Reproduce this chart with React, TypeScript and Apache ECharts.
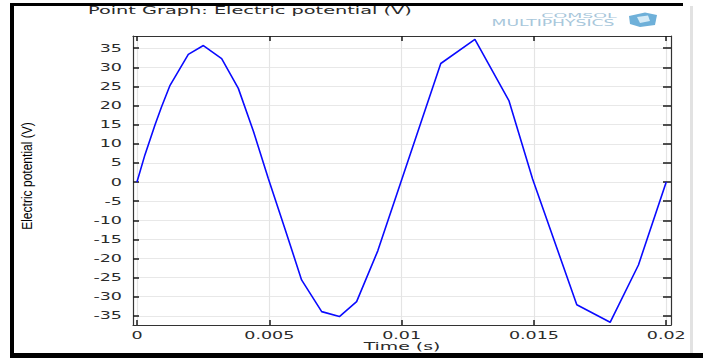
import React, { useEffect, useRef } from "react";
import * as echarts from "echarts";

// Time samples (s) and electric potential (V) along the point graph
const timeS = [
  0, 0.0003, 0.00068, 0.00093, 0.00125, 0.00194, 0.00251, 0.0032, 0.00383, 0.0044,
  0.00496, 0.0056, 0.00622, 0.00698, 0.00765, 0.0083, 0.0091, 0.01148, 0.01277,
  0.01406, 0.01495, 0.01662, 0.01788, 0.01895, 0.02,
];
const potentialV = [
  0, 7.1, 14.9, 19.7, 25.3, 33.4, 35.7, 32.3, 24.5, 13.3,
  1.0, -12.4, -25.6, -33.9, -35.2, -31.3, -18.0, 31.0, 37.3,
  21.2, 0.8, -32.1, -36.7, -21.7, 0,
];

const xTicks = [0, 0.005, 0.01, 0.015, 0.02];
const xTickLabels = ["0", "0.005", "0.01", "0.015", "0.02"];
const yTicks = [-35, -30, -25, -20, -15, -10, -5, 0, 5, 10, 15, 20, 25, 30, 35];
const yTickLabels = yTicks.map((v) => String(v));

const titleText = "Point Graph: Electric potential (V)";
const xTitle = "Time (s)";
const yTitle = "Electric potential (V)";

const X_MIN = -0.00015;
const X_MAX = 0.02018;
const Y_MIN = -37.4;
const Y_MAX = 38.2;

const TEXT_COLOR = "#2b2b2b";
const LABEL_FONT = '10px "DejaVu Sans"';
const WIDE = 1.75;

function axisCommon(ticks: number[], tickLen: number) {
  return {
    type: "value" as const,
    axisLine: { show: true, onZero: false, lineStyle: { color: "#333", width: 1.2 } },
    axisTick: {
      show: true,
      inside: true,
      length: tickLen,
      customValues: ticks,
      lineStyle: { color: "#1a1a1a", width: 1.5 },
    },
    axisLabel: { show: false, customValues: ticks },
  };
}

export default function App() {
  const ref = useRef<HTMLDivElement>(null);

  useEffect(() => {
    if (!ref.current) return;
    const chart = echarts.init(ref.current, null, { renderer: "svg" });

    chart.setOption({
      animation: false,
      backgroundColor: "#ffffff",
      grid: { left: 133, top: 36, right: 32, bottom: 33, containLabel: false },
      xAxis: [
        {
          ...axisCommon(xTicks, 5),
          min: X_MIN,
          max: X_MAX,
          position: "bottom",
          splitLine: { show: true, lineStyle: { color: "#e4e4e4", width: 1.2 } },
        },
        {
          ...axisCommon(xTicks, 5),
          min: X_MIN,
          max: X_MAX,
          position: "top",
          splitLine: { show: false },
        },
      ],
      yAxis: [
        {
          ...axisCommon(yTicks, 6),
          min: Y_MIN,
          max: Y_MAX,
          position: "left",
          splitLine: { show: true, lineStyle: { color: "#e8e8e8", width: 1.2 } },
        },
        {
          ...axisCommon(yTicks, 8),
          min: Y_MIN,
          max: Y_MAX,
          position: "right",
          splitLine: { show: false },
        },
      ],
      series: [
        {
          type: "line",
          xAxisIndex: 0,
          yAxisIndex: 0,
          data: timeS.map((t, i) => [t, potentialV[i]]),
          showSymbol: false,
          lineStyle: { color: "#0a0aff", width: 1.6 },
          z: 5,
        },
      ],
    });

    const graphics: any[] = [];

    // frame around the figure
    graphics.push(
      { type: "rect", shape: { x: 10, y: 3, width: 4, height: 355 }, style: { fill: "#000" } },
      { type: "rect", shape: { x: 10, y: 3, width: 673, height: 3 }, style: { fill: "#000" } },
      { type: "rect", shape: { x: 10, y: 353, width: 693, height: 5 }, style: { fill: "#000" } },
      { type: "rect", shape: { x: 690, y: 6, width: 3, height: 347 }, style: { fill: "#e2e2e2" } }
    );

    // title
    graphics.push({
      type: "text",
      x: 88,
      y: 11,
      scaleX: 1.84,
      style: {
        text: titleText,
        font: '10.5px "DejaVu Sans"',
        fill: TEXT_COLOR,
        align: "left",
        verticalAlign: "middle",
      },
    });

    // vendor mark, top right
    graphics.push(
      {
        type: "text",
        x: 579,
        y: 16,
        scaleX: 2.5,
        style: {
          text: "COMSOL",
          font: '7px "DejaVu Sans"',
          fill: "#a8c7db",
          align: "center",
          verticalAlign: "middle",
        },
      },
      {
        type: "text",
        x: 553,
        y: 23.5,
        scaleX: 2.15,
        style: {
          text: "MULTIPHYSICS",
          font: '8px "DejaVu Sans"',
          fill: "#a8c7db",
          align: "center",
          verticalAlign: "middle",
        },
      },
      {
        type: "polygon",
        shape: {
          points: [
            [629, 16],
            [645, 12.5],
            [657, 15],
            [655, 25],
            [640, 27],
            [630, 24],
          ],
        },
        style: { fill: "#6eb0d9" },
      },
      {
        type: "polygon",
        shape: {
          points: [
            [637, 17],
            [648, 15.5],
            [650, 21],
            [640, 23],
          ],
        },
        style: { fill: "#d5ebf7" },
      }
    );

    // tick labels placed through the axis scales
    xTicks.forEach((v, i) => {
      const px = chart.convertToPixel({ xAxisIndex: 0 }, v) as number;
      graphics.push({
        type: "text",
        x: px,
        y: 335,
        scaleX: WIDE,
        style: {
          text: xTickLabels[i],
          font: LABEL_FONT,
          fill: TEXT_COLOR,
          align: "center",
          verticalAlign: "middle",
        },
      });
    });
    yTicks.forEach((v, i) => {
      const py = chart.convertToPixel({ yAxisIndex: 0 }, v) as number;
      graphics.push({
        type: "text",
        x: 122,
        y: py,
        scaleX: WIDE,
        style: {
          text: yTickLabels[i],
          font: LABEL_FONT,
          fill: TEXT_COLOR,
          align: "right",
          verticalAlign: "middle",
        },
      });
    });

    // axis titles
    const xMid =
      ((chart.convertToPixel({ xAxisIndex: 0 }, X_MIN) as number) +
        (chart.convertToPixel({ xAxisIndex: 0 }, X_MAX) as number)) /
      2;
    graphics.push({
      type: "text",
      x: xMid,
      y: 347,
      scaleX: 1.8,
      style: {
        text: xTitle,
        font: '10.5px "DejaVu Sans"',
        fill: TEXT_COLOR,
        align: "center",
        verticalAlign: "middle",
      },
    });
    graphics.push({
      type: "text",
      x: 27,
      y: 176,
      rotation: Math.PI / 2,
      scaleX: 0.86,
      style: {
        text: yTitle,
        font: '14px "Liberation Sans"',
        fill: "#000",
        align: "center",
        verticalAlign: "middle",
      },
    });

    chart.setOption({ graphic: graphics });

    return () => chart.dispose();
  }, []);

  return (
    <div
      ref={ref}
      style={{ position: "fixed", left: 0, top: 0, width: 703, height: 358, background: "#fff" }}
    />
  );
}
